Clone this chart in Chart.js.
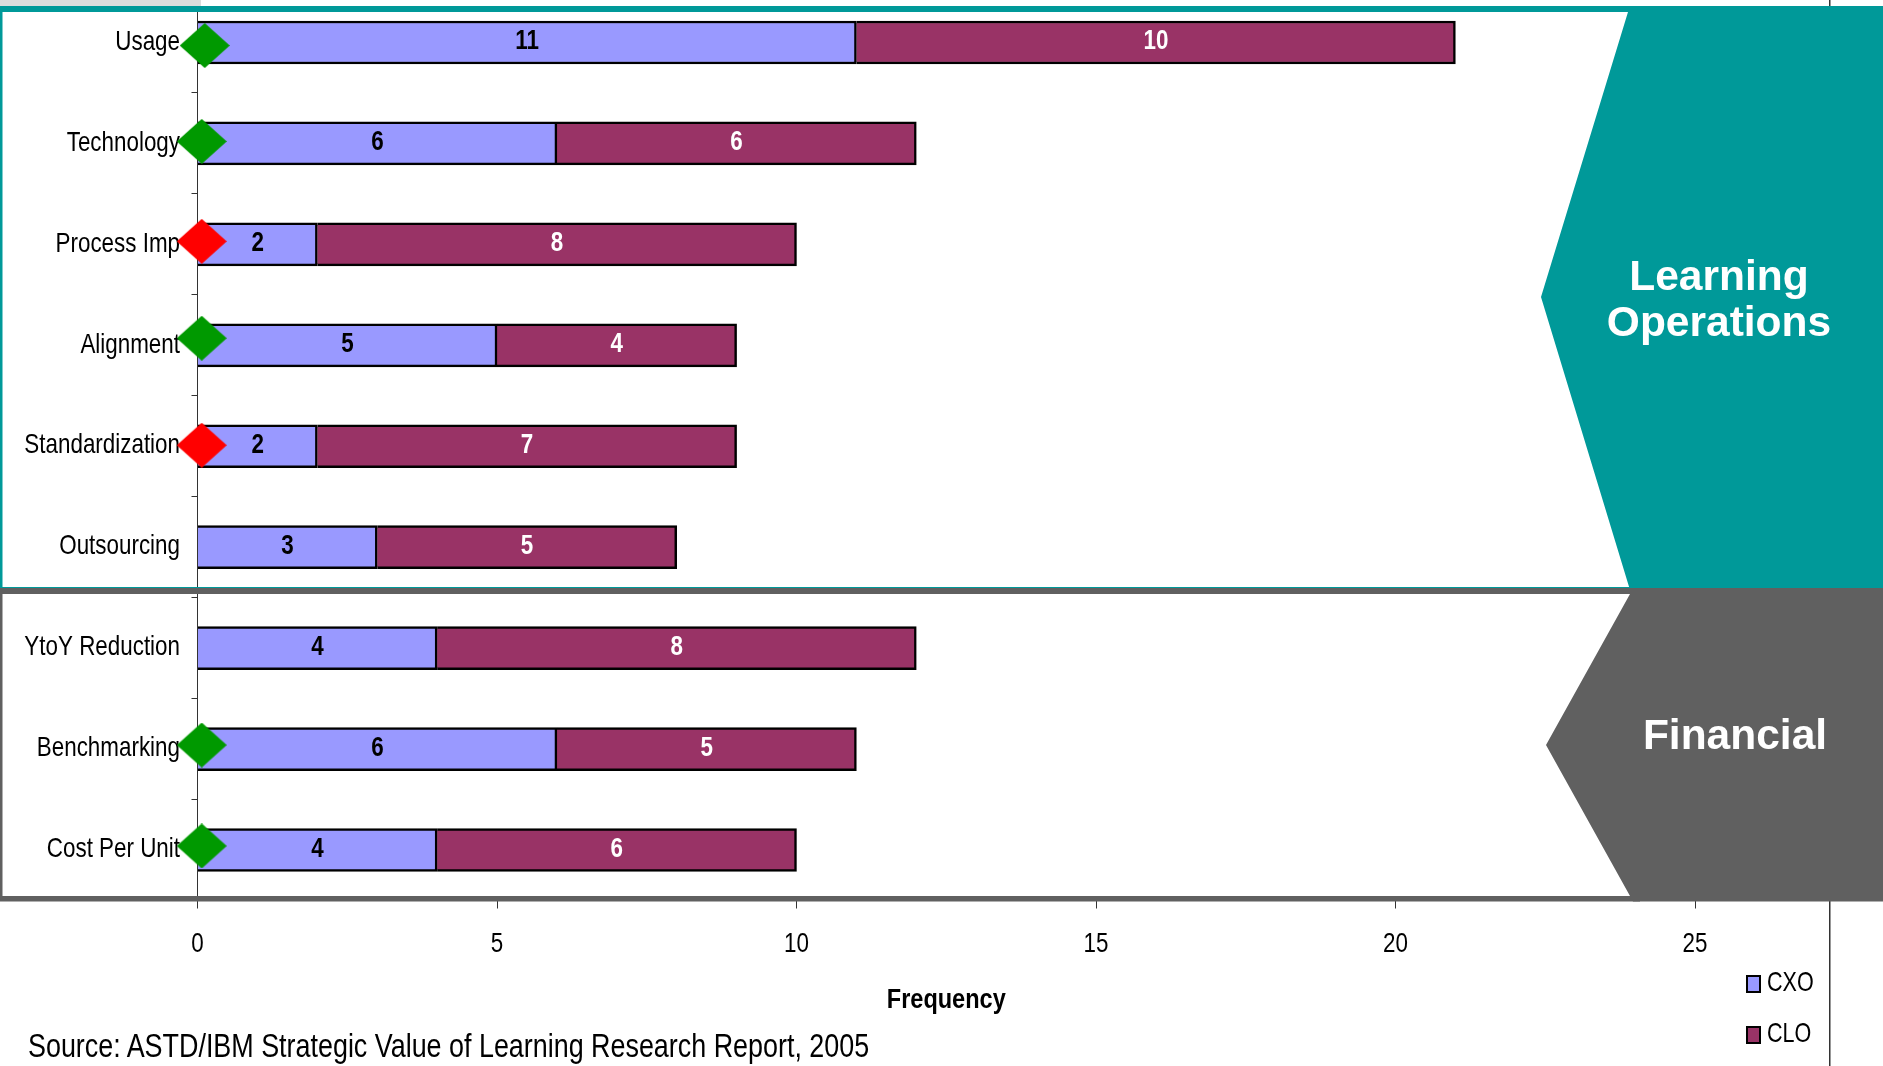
<!DOCTYPE html>
<html>
<head>
<meta charset="utf-8">
<title>Frequency by metric</title>
<script src="https://cdn.jsdelivr.net/npm/chart.js@4/dist/chart.umd.min.js"></script>
<style>
    html, body { margin: 0; padding: 0; background: #fff; overflow: hidden; }
    #stage { position: relative; width: 1883px; height: 1066px; overflow: hidden; }
    #chart { position: absolute; left: 0; top: -8px; }
    .narrow { position: absolute; font-family: "Liberation Sans", sans-serif; color: #000; white-space: nowrap; transform: scaleX(0.815); transform-origin: left center; }
    .swatch { position: absolute; width: 11px; height: 14px; border: 2px solid #000; }
</style>
</head>
<body>
<div id="stage">
    <canvas id="chart" width="1883" height="1074"></canvas>
    <div class="narrow" id="source" style="left:28px; top:1027px; font-size:33px;"></div>
    <div class="swatch" id="swatch-0" style="left:1746px; top:975px;"></div>
    <div class="narrow" id="legend-0" style="left:1767px; top:966px; font-size:28px; transform: scaleX(0.77);"></div>
    <div class="swatch" id="swatch-1" style="left:1746px; top:1026px;"></div>
    <div class="narrow" id="legend-1" style="left:1767px; top:1017px; font-size:28px; transform: scaleX(0.77);"></div>
</div>
<script>
// データ
const categories = ['Usage', 'Technology', 'Process Imp', 'Alignment', 'Standardization', 'Outsourcing', 'YtoY Reduction', 'Benchmarking', 'Cost Per Unit'];
const cxoValues = [11, 6, 2, 5, 2, 3, 4, 6, 4];
const cloValues = [10, 6, 8, 4, 7, 5, 8, 5, 6];
const seriesNames = ['CXO', 'CLO'];
const seriesColors = ['#9999ff', '#993366'];
const xTicks = [0, 5, 10, 15, 20, 25];
const xTitle = 'Frequency';
const sourceText = 'Source: ASTD/IBM Strategic Value of Learning Research Report, 2005';

// ひし形マーカー
const markX = [0.12, 0.07, 0.07, 0.07, 0.07, 0.07, 0.07];
const markY = [0.03, 0.98, 1.97, 2.93, 3.99, 6.96, 7.96];
const markColors = ['#009900', '#009900', '#ff0000', '#009900', '#ff0000', '#009900', '#009900'];

const FONT = '"Liberation Sans", sans-serif';
const NARROW = 0.8; // the narrow face is not installed, so text is squeezed
const TOP_SHIFT = 8; // canvas is pulled up so the first band starts above the page

function makeDiamond(color) {
    const c = document.createElement('canvas');
    c.width = 50;
    c.height = 45;
    const g = c.getContext('2d');
    g.fillStyle = color;
    g.beginPath();
    g.moveTo(25, 0);
    g.lineTo(50, 22.5);
    g.lineTo(25, 45);
    g.lineTo(0, 22.5);
    g.closePath();
    g.fill();
    return c;
}

function fillPoly(ctx, color, pts) {
    ctx.fillStyle = color;
    ctx.beginPath();
    pts.forEach((p, i) => i ? ctx.lineTo(p[0], p[1]) : ctx.moveTo(p[0], p[1]));
    ctx.closePath();
    ctx.fill();
}

function squeezedText(ctx, text, x, y, align, squeeze) {
    ctx.save();
    ctx.translate(x, y);
    ctx.scale(squeeze, 1);
    ctx.textAlign = align;
    ctx.textBaseline = 'middle';
    ctx.fillText(text, 0, 0);
    ctx.restore();
}

// 棒の数値と軸のラベル
const chartText = {
    id: 'chartText',
    beforeDatasetsDraw(chart) {
        const ctx = chart.ctx;
        const xs = chart.scales.x;
        const ys = chart.scales.y;
        ctx.save();
        ctx.fillStyle = '#000';
        ctx.font = 'bold 28px ' + FONT;
        squeezedText(ctx, xTitle, (xs.left + xs.right) / 2, xs.top + 100, 'center', 0.84);
        ctx.font = '28px ' + FONT;
        xTicks.forEach(v => squeezedText(ctx, String(v), xs.getPixelForValue(v), xs.top + 44, 'center', NARROW));
        categories.forEach((name, i) => squeezedText(ctx, name, ys.right - 17.5, ys.getPixelForValue(i) - 0.5, 'right', NARROW));
        ctx.restore();
    },
    afterDatasetsDraw(chart) {
        const ctx = chart.ctx;
        ctx.save();
        ctx.font = 'bold 28px ' + FONT;
        [0, 1].forEach(ds => {
            ctx.fillStyle = ds === 0 ? '#000' : '#fff';
            chart.getDatasetMeta(ds).data.forEach((bar, i) => {
                squeezedText(ctx, chart.data.datasets[ds].data[i], (bar.x + bar.base) / 2, bar.y - 1, 'center', 0.8);
            });
        });
        ctx.restore();
    }
};

// 枠と右側の矢羽
const frames = {
    id: 'frames',
    beforeDatasetsDraw(chart) {
        const ctx = chart.ctx;
        ctx.save();
        ctx.translate(0, TOP_SHIFT);

        ctx.fillStyle = '#dddddd';
        ctx.fillRect(0, 0, 201, 6);
        ctx.fillStyle = '#333333';
        ctx.fillRect(1829, 0, 1.5, 1066);

        // Learning Operations
        ctx.fillStyle = '#009999';
        ctx.fillRect(0, 6, 1883, 6);
        ctx.fillRect(0, 6, 2.5, 582);
        ctx.fillRect(0, 587, 1640, 1);
        fillPoly(ctx, '#009999', [[1628, 6], [1883, 6], [1883, 590], [1630, 590], [1541, 297], [1628, 12]]);

        // Financial
        ctx.fillStyle = '#606060';
        ctx.fillRect(0, 588, 1640, 6);
        ctx.fillRect(0, 588, 2.5, 313);
        ctx.fillRect(0, 896, 1640, 5.5);
        fillPoly(ctx, '#606060', [[1633, 588], [1883, 588], [1883, 901.5], [1633, 901.5], [1630, 896], [1546, 745], [1630, 594]]);

        ctx.fillStyle = '#fff';
        ctx.font = 'bold 42.5px ' + FONT;
        ctx.textAlign = 'center';
        ctx.textBaseline = 'middle';
        ctx.fillText('Learning', 1719, 278);
        ctx.fillText('Operations', 1719, 324);
        ctx.fillText('Financial', 1735, 737);
        ctx.restore();
    }
};

document.getElementById('source').textContent = sourceText;
seriesNames.forEach((name, i) => {
    document.getElementById('legend-' + i).textContent = name;
    document.getElementById('swatch-' + i).style.background = seriesColors[i];
});

new Chart(document.getElementById('chart'), {
    type: 'bar',
    data: {
        labels: categories,
        datasets: [
            { label: seriesNames[0], data: cxoValues, grouped: false, backgroundColor: seriesColors[0], borderColor: '#000', borderWidth: 2.5, barThickness: 43 },
            { label: seriesNames[1], data: cloValues, grouped: false, backgroundColor: seriesColors[1], borderColor: '#000', borderWidth: 2.5, barThickness: 43 },
            {
                type: 'scatter',
                label: 'Marker',
                indexAxis: 'x',
                xAxisID: 'x',
                yAxisID: 'yPos',
                order: -1,
                clip: false,
                data: markX.map((x, i) => ({ x: x, y: markY[i] })),
                pointStyle: markColors.map(makeDiamond),
                pointRadius: 25
            }
        ]
    },
    options: {
        indexAxis: 'y',
        responsive: false,
        animation: false,
        layout: { autoPadding: false, padding: { top: 0, left: 0, right: 188, bottom: 60 } },
        plugins: { legend: { display: false }, tooltip: { enabled: false } },
        scales: {
            x: {
                stacked: true,
                min: 0,
                max: 25,
                afterBuildTicks: axis => { axis.ticks = xTicks.map(v => ({ value: v })); },
                afterFit: axis => { axis.height = 105.5; },
                border: { display: false },
                grid: { drawOnChartArea: false, tickLength: 8, color: '#333' },
                ticks: { display: false }
            },
            y: {
                stacked: true,
                afterFit: axis => { axis.width = 197.5; },
                border: { display: true, color: '#333', width: 1 },
                grid: { drawOnChartArea: false, tickLength: 6, color: '#333' },
                ticks: { display: false }
            },
            yPos: { type: 'linear', axis: 'y', display: false, reverse: true, offset: false, min: -0.5, max: 8.5 }
        }
    },
    plugins: [frames, chartText]
});
</script>
</body>
</html>
